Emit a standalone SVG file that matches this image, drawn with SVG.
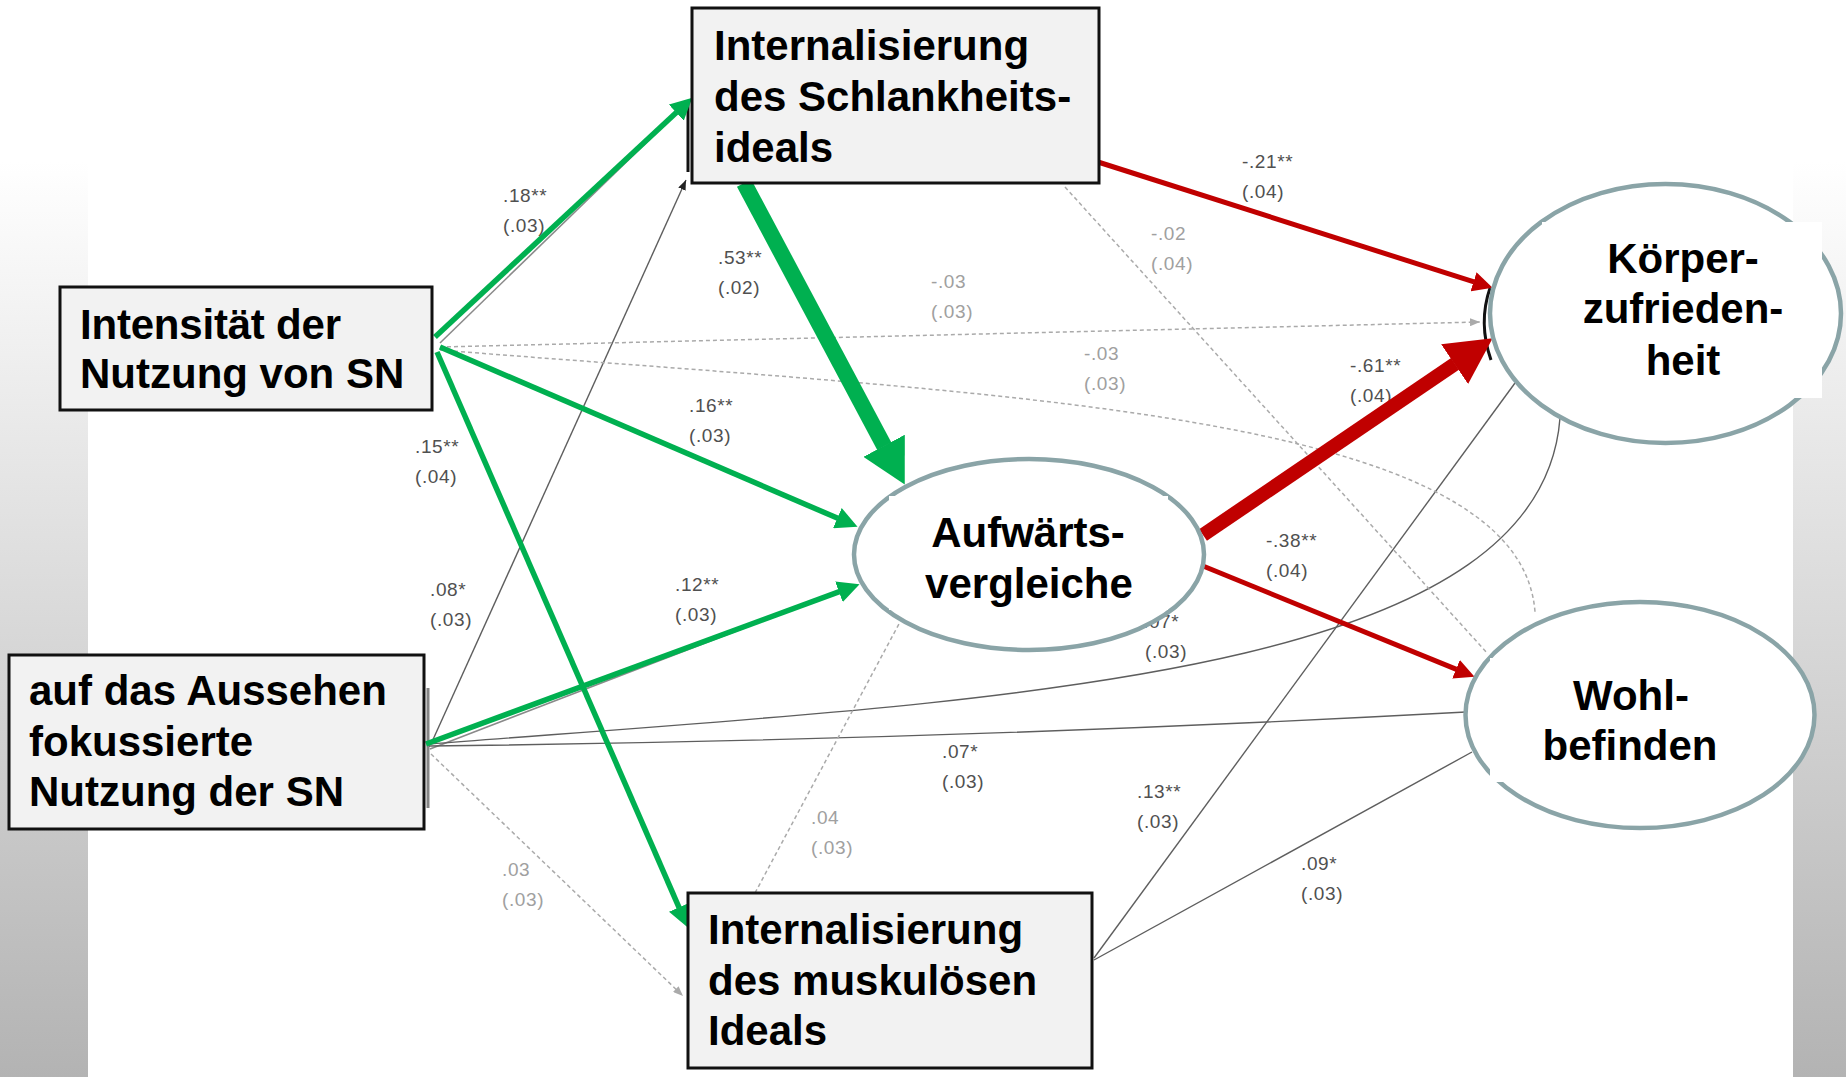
<svg xmlns="http://www.w3.org/2000/svg" width="1846" height="1077" viewBox="0 0 1846 1077">
<style>
.box{fill:#f2f2f2;stroke:#111;stroke-width:3}
.ell{fill:#fff;stroke:#8aa4a7;stroke-width:4.5}
.cover{fill:#fff}
.nt{font-family:"Liberation Sans",Arial,sans-serif;font-weight:bold;font-size:42px;fill:#000}
.ntc{font-family:"Liberation Sans",Arial,sans-serif;font-weight:bold;font-size:42px;fill:#000;text-anchor:middle}
.thin{fill:none;stroke:#5e5e5e;stroke-width:1.4}
.shadow{fill:none;stroke:#8a8a8a;stroke-width:1.6}
.dash{fill:none;stroke:#aaa;stroke-width:1.5;stroke-dasharray:4 3}
.green{fill:none;stroke:#00b050;stroke-width:5.5}
.greenB{fill:none;stroke:#00b050;stroke-width:16}
.red{fill:none;stroke:#c00000;stroke-width:5}
.redB{fill:none;stroke:#c00000;stroke-width:14}
.lbl{font-family:"Liberation Sans",Arial,sans-serif;font-size:19px;letter-spacing:0.6px;fill:#505050}
.lbl2{font-family:"Liberation Sans",Arial,sans-serif;font-size:19px;letter-spacing:0.6px;fill:#a0a0a0}
</style>
<defs>
<linearGradient id="bg" x1="0" y1="0" x2="0" y2="1">
<stop offset="0" stop-color="#ffffff"/>
<stop offset="0.15" stop-color="#ffffff"/>
<stop offset="1" stop-color="#b3b3b3"/>
</linearGradient>
<marker id="gS" viewBox="0 0 22 22" markerWidth="22" markerHeight="22" refX="0.5" refY="11" orient="auto" markerUnits="userSpaceOnUse"><path d="M0,0 L22,11 L0,22 z" fill="#00b050"/></marker>
<marker id="gB" viewBox="0 0 44 47" markerWidth="44" markerHeight="47" refX="0.5" refY="23.5" orient="auto" markerUnits="userSpaceOnUse"><path d="M0,0 L44,23.5 L0,47 z" fill="#00b050"/></marker>
<marker id="rS" viewBox="0 0 20 20" markerWidth="20" markerHeight="20" refX="0.5" refY="10" orient="auto" markerUnits="userSpaceOnUse"><path d="M0,0 L20,10 L0,20 z" fill="#c00000"/></marker>
<marker id="rB" viewBox="0 0 46 48" markerWidth="46" markerHeight="48" refX="0.5" refY="24" orient="auto" markerUnits="userSpaceOnUse"><path d="M0,0 L46,24 L0,48 z" fill="#c00000"/></marker>
<marker id="gy" viewBox="0 0 10 8" markerWidth="10" markerHeight="8" refX="10" refY="4" orient="auto" markerUnits="userSpaceOnUse"><path d="M0,0 L10,4 L0,8 z" fill="#aaa"/></marker>
<marker id="bk" viewBox="0 0 10 8" markerWidth="10" markerHeight="8" refX="10" refY="4" orient="auto" markerUnits="userSpaceOnUse"><path d="M0,0 L10,4 L0,8 z" fill="#222"/></marker>
</defs>

<rect x="0" y="0" width="1846" height="1077" fill="url(#bg)"/>
<rect x="88" y="0" width="1705" height="1077" fill="#fff"/>

<g id="connectors">
  <path class="thin" d="M431,744 L686,180" marker-end="url(#bk)"/>
  <path class="shadow" d="M440,343 L684,106"/>
  <path class="shadow" d="M430,749 L856,585"/>
  <path class="thin" d="M429,744 C1000,700 1540,680 1560,418"/>
  <path class="thin" d="M429,746 Q950,740 1466,712"/>
  <path class="thin" d="M1094,958 L1515,383"/>
  <path class="thin" d="M1094,960 L1472,752"/>
  <path class="dash" d="M440,347 L1480,322" marker-end="url(#gy)"/>
  <path class="dash" d="M440,350 C1000,395 1520,410 1535,612"/>
  <path class="dash" d="M1065,187 L1488,654"/>
  <path class="dash" d="M755,893 L900,622"/>
  <path class="dash" d="M431,754 L683,996" marker-end="url(#gy)"/>
  <path d="M1490,288 Q1478,323 1491,360" fill="none" stroke="#111" stroke-width="3"/>
  <path d="M688,103 L688,172" fill="none" stroke="#111" stroke-width="3"/>
  <path d="M428,688 L428,808" fill="none" stroke="#333" stroke-width="3" opacity="0.6"/>

  <g id="labels">
    <text class="lbl" x="503" y="202">.18**</text><text class="lbl" x="503" y="232">(.03)</text>
    <text class="lbl" x="718" y="264">.53**</text><text class="lbl" x="718" y="294">(.02)</text>
    <text class="lbl2" x="931" y="288">-.03</text><text class="lbl2" x="931" y="318">(.03)</text>
    <text class="lbl" x="1242" y="168">-.21**</text><text class="lbl" x="1242" y="198">(.04)</text>
    <text class="lbl2" x="1151" y="240">-.02</text><text class="lbl2" x="1151" y="270">(.04)</text>
    <text class="lbl2" x="1084" y="360">-.03</text><text class="lbl2" x="1084" y="390">(.03)</text>
    <text class="lbl" x="1350" y="372">-.61**</text><text class="lbl" x="1350" y="402">(.04)</text>
    <text class="lbl" x="689" y="412">.16**</text><text class="lbl" x="689" y="442">(.03)</text>
    <text class="lbl" x="415" y="453">.15**</text><text class="lbl" x="415" y="483">(.04)</text>
    <text class="lbl" x="430" y="596">.08*</text><text class="lbl" x="430" y="626">(.03)</text>
    <text class="lbl" x="675" y="591">.12**</text><text class="lbl" x="675" y="621">(.03)</text>
    <text class="lbl" x="1266" y="547">-.38**</text><text class="lbl" x="1266" y="577">(.04)</text>
    <text class="lbl" x="1143" y="628">.07*</text><text class="lbl" x="1145" y="658">(.03)</text>
    <text class="lbl" x="942" y="758">.07*</text><text class="lbl" x="942" y="788">(.03)</text>
    <text class="lbl2" x="811" y="824">.04</text><text class="lbl2" x="811" y="854">(.03)</text>
    <text class="lbl2" x="502" y="876">.03</text><text class="lbl2" x="502" y="906">(.03)</text>
    <text class="lbl" x="1137" y="798">.13**</text><text class="lbl" x="1137" y="828">(.03)</text>
    <text class="lbl" x="1301" y="870">.09*</text><text class="lbl" x="1301" y="900">(.03)</text>
  </g>

  <path class="green" d="M435,337 L676.6,112.3" marker-end="url(#gS)"/>
  <path class="green" d="M440,347 L837.8,518.3" marker-end="url(#gS)"/>
  <path class="green" d="M437,352 L679.2,907.8" marker-end="url(#gS)"/>
  <path class="green" d="M426,744 L839.4,591.6" marker-end="url(#gS)"/>
  <path class="greenB" d="M744,183 L884.3,446.2" marker-end="url(#gB)"/>
  <path class="red" d="M1098,162 L1474,281.9" marker-end="url(#rS)"/>
  <path class="redB" d="M1203,535 L1455,363.9" marker-end="url(#rB)"/>
  <path class="red" d="M1203,566 L1456.5,669.4" marker-end="url(#rS)"/>
</g>

<g id="node-intensitaet">
  <rect class="box" x="60" y="287" width="372" height="123"/>
  <text class="nt" x="80" y="339" textLength="261" lengthAdjust="spacing">Intensität der</text>
  <text class="nt" x="80" y="388">Nutzung von SN</text>
</g>

<g id="node-schlank">
  <rect class="box" x="692" y="8" width="407" height="175"/>
  <text class="nt" x="714" y="60">Internalisierung</text>
  <text class="nt" x="714" y="111">des Schlankheits-</text>
  <text class="nt" x="714" y="162">ideals</text>
</g>

<g id="node-aussehen">
  <rect class="box" x="9" y="655" width="415" height="174"/>
  <text class="nt" x="29" y="705">auf das Aussehen</text>
  <text class="nt" x="29" y="756">fokussierte</text>
  <text class="nt" x="29" y="806">Nutzung der SN</text>
</g>

<g id="node-muskel">
  <rect class="box" x="688" y="893" width="404" height="175"/>
  <text class="nt" x="708" y="944">Internalisierung</text>
  <text class="nt" x="708" y="995">des muskulösen</text>
  <text class="nt" x="708" y="1045">Ideals</text>
</g>

<g id="node-aufwaerts">
  <ellipse class="ell" cx="1029" cy="554.5" rx="175" ry="95.5"/>
  <rect class="cover" x="889" y="496" width="279" height="114"/>
  <text class="ntc" x="1028" y="547">Aufwärts-</text>
  <text class="ntc" x="1029" y="598">vergleiche</text>
</g>

<g id="node-koerper">
  <ellipse class="ell" cx="1665.5" cy="313.5" rx="175.5" ry="129.5"/>
  <rect class="cover" x="1542" y="222" width="280" height="176"/>
  <text class="ntc" x="1683" y="273">Körper-</text>
  <text class="ntc" x="1683" y="323">zufrieden-</text>
  <text class="ntc" x="1683" y="375">heit</text>
</g>

<g id="node-wohl">
  <ellipse class="ell" cx="1640" cy="715" rx="174.5" ry="113"/>
  <rect class="cover" x="1490" y="658" width="280" height="124"/>
  <text class="ntc" x="1631" y="710">Wohl-</text>
  <text class="ntc" x="1630" y="760">befinden</text>
</g>
</svg>
